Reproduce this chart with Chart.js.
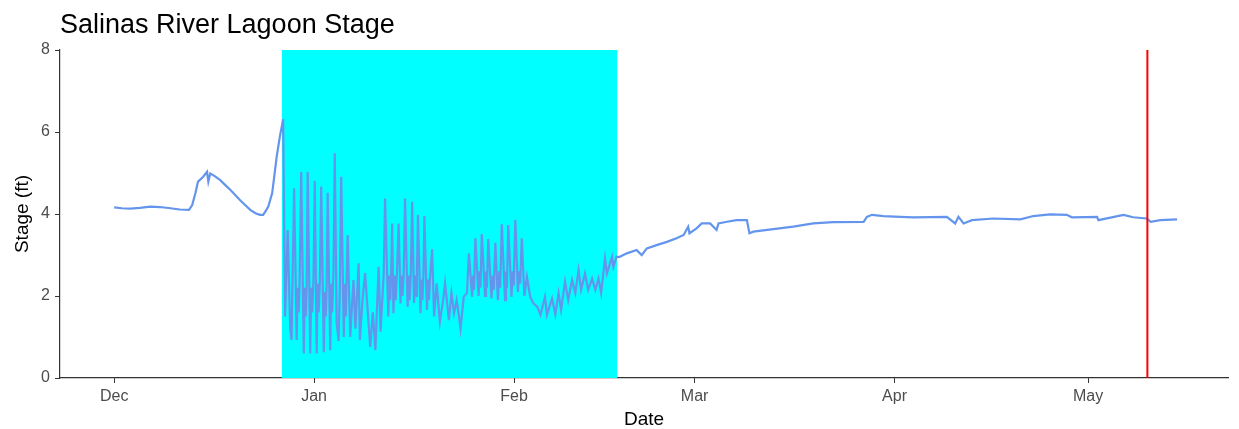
<!DOCTYPE html>
<html lang="en">
<head>
  <meta charset="UTF-8" />
  <title>Salinas River Lagoon Stage</title>
  <script src="https://cdn.jsdelivr.net/npm/chart.js"></script>
  <style>
    html, body { margin: 0; padding: 0; background: #fff; }
    #wrap { width: 1239px; height: 429px; }
  </style>
</head>
<body>
<div id="wrap"><canvas id="stageChart" width="1239" height="429"></canvas></div>

<script>
  // Month ticks (days counted from Dec 1)
  const monthLabels = ['Dec', 'Jan', 'Feb', 'Mar', 'Apr', 'May'];
  const monthDays = [0, 31, 62, 90, 121, 151];
  const stageTicks = [0, 2, 4, 6, 8];

  // Open-lagoon period (cyan band) and marker date (red line)
  const floodStart = 26.0;
  const floodEnd = 78.0;
  const markerDay = 160.2;

  // December: closed lagoon
  const decDays  = [0, 1.2, 2.5, 4.0, 5.6, 7.1, 8.7, 10.2, 11.6, 12.1, 12.6, 13.0, 13.8, 14.4, 14.6, 14.9,
                    15.7, 16.4, 17.2, 18.0, 18.8, 19.5, 20.3, 21.1, 21.9, 22.6, 23.1, 23.6, 23.9, 24.5, 25.2, 25.7, 26.2];
  const decStage = [4.16, 4.14, 4.13, 4.15, 4.18, 4.17, 4.14, 4.11, 4.10, 4.22, 4.51, 4.79, 4.91, 5.03, 4.79, 4.99,
                    4.91, 4.83, 4.71, 4.59, 4.46, 4.34, 4.22, 4.10, 4.02, 3.98, 3.98, 4.10, 4.18, 4.51, 5.40, 5.90, 6.31];

  // Open to the ocean: tidal swings
  const openDays  = [26.5, 26.9, 27.3, 27.5, 27.9, 28.3, 28.45, 28.6, 28.75, 29.0, 29.4, 29.55, 29.7, 29.85,
                     30.0, 30.4, 30.55, 30.7, 30.9, 31.1, 31.4, 31.55, 31.7, 31.9, 32.1, 32.5, 32.65, 32.8, 32.95,
                     33.1, 33.5, 33.65, 33.8, 34.0, 34.2, 34.5, 34.8, 35.0, 35.2, 35.6, 35.75, 35.9, 36.05, 36.2,
                     36.6, 37.1, 37.4, 37.9, 38.1, 38.5, 38.9, 39.7, 40.1, 40.5, 41.0, 41.3, 41.8,
                     42.0, 42.5, 42.65, 42.8, 42.95, 43.1, 43.3, 43.5, 43.65, 43.85, 44.1, 44.4, 44.55, 44.7, 44.9,
                     45.1, 45.5, 45.65, 45.8, 46.0, 46.2, 46.5, 46.65, 46.8, 46.95, 47.1, 47.5, 47.65, 47.8, 47.95,
                     48.1, 48.5, 48.65, 48.8, 49.0, 49.3, 49.6,
                     50.0, 50.5, 51.0, 51.3, 51.9, 52.3, 52.7, 53.1, 53.4, 53.7, 54.2, 54.7,
                     55.0, 55.5, 55.65, 55.8, 56.0, 56.5, 56.65, 56.8, 57.0, 57.5, 57.65, 57.8, 58.0, 58.5, 58.7,
                     58.85, 59.1, 59.5, 59.7, 59.85, 60.1, 60.6, 60.75, 60.9, 61.1, 61.6, 61.8, 61.95, 62.2, 62.6,
                     62.8, 62.95, 63.2, 63.6,
                     64.0, 64.5, 65.0, 65.6, 66.1, 66.8, 67.1, 67.9, 68.4, 68.9, 69.3, 69.9, 70.4, 71.0, 71.5, 72.0,
                     72.4, 73.0, 73.5, 74.1, 74.6, 75.1, 75.5, 76.1, 76.4, 77.2, 77.4, 77.9];
  const openStage = [1.50, 3.61, 1.17, 0.93, 4.63, 0.93, 2.20, 1.60, 2.30, 5.03, 0.60, 2.20, 1.50, 2.30,
                     5.03, 0.60, 2.20, 1.60, 2.40, 4.81, 0.60, 2.30, 1.60, 2.40, 4.67, 0.63, 2.10, 1.50, 2.30,
                     4.52, 0.68, 2.30, 1.60, 2.60, 5.48, 1.34, 0.90, 2.30, 4.91, 1.00, 2.30, 1.50, 2.50, 3.49,
                     1.00, 2.39, 1.20, 2.80, 0.93, 1.90, 2.56, 0.76, 1.60, 0.68, 2.71, 1.13, 2.56,
                     4.38, 1.50, 2.50, 1.90, 2.60, 3.77, 1.58, 2.50, 1.90, 2.60, 3.77, 1.82, 2.50, 2.00, 2.60,
                     4.38, 1.74, 2.50, 1.90, 2.60, 4.30, 1.83, 2.50, 2.00, 2.60, 3.98, 1.58, 2.40, 1.90, 2.50,
                     3.95, 1.66, 2.40, 1.90, 2.50, 3.14, 1.50,
                     2.31, 1.37, 1.90, 2.31, 1.41, 2.07, 1.58, 1.90, 1.58, 1.20, 1.98, 2.07,
                     3.04, 1.98, 2.50, 2.15, 3.41, 2.00, 2.60, 2.20, 3.51, 2.00, 2.60, 2.20, 3.39, 1.94, 2.50,
                     2.15, 3.30, 1.90, 2.60, 2.20, 3.75, 1.90, 2.60, 2.20, 3.73, 1.98, 2.60, 2.25, 3.85, 2.10,
                     2.60, 2.30, 3.41, 2.00,
                     2.47, 1.98, 1.82, 1.74, 1.54, 1.98, 1.54, 1.94, 1.55, 2.07, 1.66, 2.35, 1.90, 2.39, 2.07, 2.63,
                     2.15, 2.55, 2.15, 2.43, 2.15, 2.43, 2.07, 2.92, 2.55, 2.96, 2.71, 2.96];

  // Spring: closed again
  const springDays  = [78.3, 79.5, 81.0, 81.8, 82.6, 84.1, 85.7, 87.2, 88.3, 89.0, 89.2, 90.3, 91.1, 92.4, 93.4, 93.7,
                       95.0, 96.5, 98.1, 98.5, 99.1, 102.2, 105.3, 108.4, 111.5, 116.2, 116.7, 117.5, 119.3, 121.9,
                       123.9, 129.1, 130.4, 130.9, 131.7, 133.0, 136.3, 140.5, 142.5, 145.1, 147.7, 148.5, 152.4,
                       152.6, 156.5, 158.0, 160.1, 160.7, 162.2, 164.8];
  const springStage = [2.95, 3.04, 3.12, 3.00, 3.16, 3.24, 3.32, 3.41, 3.49, 3.69, 3.53, 3.65, 3.77, 3.77, 3.61, 3.77,
                       3.81, 3.85, 3.85, 3.53, 3.57, 3.63, 3.69, 3.77, 3.80, 3.81, 3.93, 3.98, 3.95, 3.93,
                       3.92, 3.93, 3.77, 3.93, 3.77, 3.85, 3.89, 3.87, 3.95, 3.99, 3.98, 3.92, 3.93,
                       3.85, 3.98, 3.92, 3.89, 3.81, 3.85, 3.87];

  const days = decDays.concat(openDays, springDays);
  const stage = decStage.concat(openStage, springStage);

  const FONT = "'Liberation Sans', Arial, sans-serif";
  const AXIS = '#333333';

  // cyan band under the line, red marker over it
  const periodMarks = {
    id: 'periodMarks',
    beforeDatasetsDraw(chart) {
      const { ctx, scales: { x, y } } = chart;
      const x0 = x.getPixelForValue(floodStart);
      const x1 = x.getPixelForValue(floodEnd);
      const yTop = y.getPixelForValue(8);
      const yBot = y.getPixelForValue(0);
      ctx.save();
      ctx.fillStyle = '#00FFFF';
      ctx.fillRect(x0, yTop, x1 - x0, yBot - yTop);
      ctx.restore();
    },
    afterDatasetsDraw(chart) {
      const { ctx, scales: { x, y } } = chart;
      const xm = x.getPixelForValue(markerDay);
      ctx.save();
      ctx.strokeStyle = '#FF0000';
      ctx.lineWidth = 2;
      ctx.beginPath();
      ctx.moveTo(xm, y.getPixelForValue(8));
      ctx.lineTo(xm, y.getPixelForValue(0));
      ctx.stroke();
      ctx.restore();
    }
  };

  const chart = new Chart(document.getElementById('stageChart'), {
    type: 'line',
    data: {
      datasets: [{
        label: 'Stage',
        data: days.map((d, i) => ({ x: d, y: stage[i] })),
        borderColor: '#6495ED',
        borderWidth: 2.2,
        pointRadius: 0,
        tension: 0,
        fill: false
      }]
    },
    options: {
      responsive: false,
      animation: false,
      layout: { padding: { top: 0, right: 11, bottom: 0, left: 0 } },
      plugins: {
        legend: { display: false },
        tooltip: { enabled: false },
        title: {
          display: true,
          text: 'Salinas River Lagoon Stage',
          align: 'start',
          fullSize: false,
          color: '#000000',
          font: { family: FONT, size: 27, weight: 'normal', lineHeight: 1.2 },
          padding: { top: 9, bottom: 8.6 }
        }
      },
      scales: {
        x: {
          type: 'linear',
          min: -8.4,
          max: 172.7,
          z: 1,
          afterFit(scale) { scale.height = 51; },
          afterBuildTicks(scale) { scale.ticks = monthDays.map(v => ({ value: v })); },
          ticks: {
            autoSkip: false,
            maxRotation: 0,
            padding: 4,
            color: '#4D4D4D',
            font: { family: FONT, size: 16 },
            callback: (v) => monthLabels[monthDays.indexOf(v)]
          },
          grid: { drawOnChartArea: false, drawTicks: true, tickLength: 5, color: AXIS },
          border: { display: true, color: AXIS, width: 1.2 },
          title: {
            display: true,
            text: 'Date',
            color: '#000000',
            font: { family: FONT, size: 19, lineHeight: 1 },
            padding: { top: 0, bottom: 0 }
          }
        },
        y: {
          min: 0,
          max: 8,
          z: 1,
          afterFit(scale) { scale.width = 60; },
          afterBuildTicks(scale) { scale.ticks = stageTicks.map(v => ({ value: v })); },
          ticks: {
            padding: 5,
            color: '#4D4D4D',
            font: { family: FONT, size: 16 }
          },
          grid: { drawOnChartArea: false, drawTicks: true, tickLength: 5, color: AXIS },
          border: { display: true, color: AXIS, width: 1.2 },
          title: {
            display: true,
            text: 'Stage (ft)',
            color: '#000000',
            font: { family: FONT, size: 19, lineHeight: 1.2 },
            padding: { top: 11, bottom: 0 }
          }
        }
      }
    },
    plugins: [periodMarks]
  });
</script>
</body>
</html>
